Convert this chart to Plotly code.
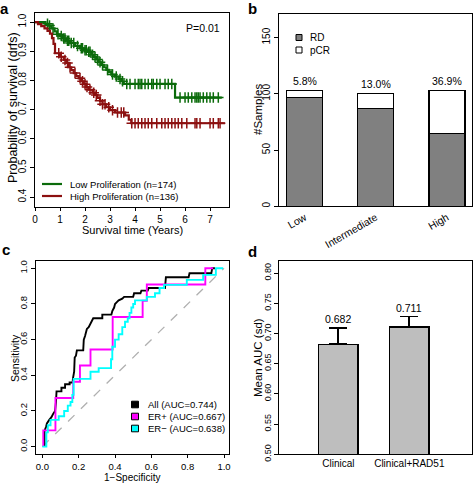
import plotly.graph_objects as go

W, H = 473, 483
FONT = "Liberation Sans, Arial, Helvetica, sans-serif"


def px(x):
    return x / W


def py(y):
    return 1 - y / H


# ---------------- Panel a: Kaplan-Meier (drfs) ----------------
low_t = [0.0, 0.42, 0.55, 0.65, 0.78, 0.88, 1.0, 1.12, 1.25, 1.4, 1.6, 1.8, 1.95, 2.1, 2.25,
         2.35, 2.45, 2.55, 2.65, 2.75, 2.85, 2.95, 3.05, 3.2, 3.35, 3.45, 3.55, 5.6]
low_s = [1.0, 0.994, 0.988, 0.978, 0.968, 0.958, 0.952, 0.944, 0.936, 0.928, 0.918, 0.91, 0.903, 0.898, 0.888,
         0.88, 0.872, 0.862, 0.853, 0.845, 0.836, 0.828, 0.82, 0.813, 0.805, 0.797, 0.788, 0.741]
low_end = 7.47
low_cens = [0.5, 0.58, 0.72, 0.92, 1.05, 1.15, 1.2, 1.3, 1.35, 1.45, 1.55, 1.7, 1.85, 1.9, 2.0, 2.05,
            2.15, 2.2, 2.3, 2.4, 2.5, 2.6, 2.7, 2.9, 3.1, 3.25, 3.4, 3.5, 3.67, 3.8, 4.0, 4.13, 4.2,
            4.27, 4.4, 4.53, 4.67, 4.73, 4.87, 5.0, 5.2, 5.33, 5.47, 5.8, 6.0, 6.13, 6.27, 6.4,
            6.47, 6.53, 6.6, 6.73, 6.87, 7.0, 7.13, 7.33]

high_t = [0.0, 0.12, 0.25, 0.38, 0.5, 0.6, 0.68, 0.74, 0.8, 1.0, 1.15, 1.25, 1.35, 1.45, 1.55, 1.65, 1.75,
          1.85, 1.95, 2.05, 2.15, 2.3, 2.4, 2.5, 2.6, 2.7, 2.85, 3.0, 3.2, 3.6, 3.75, 3.85]
high_s = [1.0, 0.993, 0.986, 0.978, 0.97, 0.96, 0.945, 0.925, 0.893, 0.881, 0.87, 0.86, 0.845, 0.835, 0.825,
          0.815, 0.807, 0.797, 0.787, 0.777, 0.768, 0.758, 0.75, 0.74, 0.73, 0.718, 0.708, 0.698, 0.69, 0.68,
          0.665, 0.653]
high_end = 7.6
high_cens = [0.95, 1.05, 1.2, 1.3, 1.4, 1.6, 1.8, 1.9, 2.0, 2.08, 2.2, 2.35, 2.45, 2.6, 2.7, 2.8, 2.95,
             3.1, 3.3, 3.45, 3.55, 3.87, 4.0, 4.13, 4.27, 4.4, 4.53, 4.67, 4.87, 5.07, 5.2, 5.33, 5.47,
             5.6, 5.73, 5.87, 6.07, 6.4, 6.47, 6.6, 7.0, 7.13, 7.33, 7.4]

km_names = ["Low Proliferation (n=174)", "High Proliferation (n=136)"]
km_colors = ["#0b6b0b", "#8c1010"]
p_value_text = "P=0.01"

# ---------------- Panel b: stacked bars ----------------
b_cats = ["Low", "Intermediate", "High"]
b_rd = [97, 87, 65]
b_pcr = [6, 13, 38]
b_pct = ["5.8%", "13.0%", "36.9%"]
b_names = ["RD", "pCR"]

# ---------------- Panel c: ROC curves ----------------
roc_all_x = [0.012, 0.012, 0.02, 0.025, 0.038, 0.05, 0.06, 0.07, 0.075, 0.078, 0.105, 0.105, 0.125, 0.125,
             0.15, 0.15, 0.167, 0.168, 0.175, 0.178, 0.185, 0.19, 0.225, 0.228, 0.235, 0.245, 0.255, 0.265,
             0.275, 0.28, 0.33, 0.33, 0.38, 0.385, 0.395, 0.4, 0.41, 0.42, 0.44, 0.45, 0.5, 0.505, 0.54,
             0.545, 0.58, 0.585, 0.675, 0.68, 0.805, 0.81, 0.93, 0.935, 0.95]
roc_all_y = [0.0, 0.09, 0.11, 0.13, 0.15, 0.165, 0.185, 0.2, 0.25, 0.31, 0.31, 0.33, 0.33, 0.35,
             0.35, 0.36, 0.36, 0.38, 0.42, 0.5, 0.51, 0.54, 0.54, 0.6, 0.62, 0.66, 0.67, 0.69,
             0.71, 0.72, 0.72, 0.74, 0.74, 0.76, 0.78, 0.8, 0.81, 0.82, 0.83, 0.84, 0.84, 0.86, 0.86,
             0.875, 0.875, 0.89, 0.89, 0.95, 0.95, 0.972, 0.972, 1.0, 1.0]
roc_erp_x = [0.005, 0.005, 0.072, 0.072, 0.17, 0.17, 0.207, 0.207, 0.265, 0.265, 0.387, 0.387,
             0.552, 0.552, 0.575, 0.575, 0.897, 0.897, 0.94]
roc_erp_y = [0.0, 0.091, 0.091, 0.273, 0.273, 0.364, 0.364, 0.455, 0.455, 0.545, 0.545, 0.727,
             0.727, 0.818, 0.818, 0.909, 0.909, 1.0, 1.0]
roc_ern_x = [0.0, 0.022, 0.022, 0.03, 0.03, 0.045, 0.045, 0.09, 0.09, 0.12, 0.12, 0.14, 0.14, 0.155,
             0.155, 0.165, 0.165, 0.172, 0.172, 0.265, 0.265, 0.31, 0.31, 0.378, 0.378, 0.385, 0.385,
             0.4, 0.4, 0.42, 0.42, 0.44, 0.44, 0.455, 0.455, 0.47, 0.47, 0.48, 0.48, 0.49, 0.49, 0.5,
             0.5, 0.51, 0.51, 0.575, 0.575, 0.62, 0.62, 0.645, 0.645, 0.67, 0.67, 0.795, 0.795, 0.885,
             0.885, 0.955, 0.955, 0.995]
roc_ern_y = [0.0, 0.0, 0.08, 0.08, 0.12, 0.12, 0.15, 0.15, 0.17, 0.17, 0.2, 0.2, 0.23, 0.23,
             0.25, 0.25, 0.29, 0.29, 0.38, 0.38, 0.42, 0.42, 0.44, 0.44, 0.49, 0.49, 0.56,
             0.56, 0.6, 0.6, 0.63, 0.63, 0.67, 0.67, 0.7, 0.7, 0.72, 0.72, 0.75, 0.75, 0.78, 0.78,
             0.8, 0.8, 0.82, 0.82, 0.84, 0.84, 0.86, 0.86, 0.89, 0.89, 0.907, 0.907, 0.935, 0.935,
             0.963, 0.963, 1.0, 1.0]
roc_names = ["All (AUC=0.744)", "ER+ (AUC=0.667)", "ER\u2212 (AUC=0.638)"]
roc_colors = ["#000000", "#ff00ff", "#00ffff"]
diag_x = [0, 1]
diag_y = [0, 1]

# ---------------- Panel d: mean AUC bars ----------------
d_cats = ["Clinical", "Clinical+RAD51"]
d_auc = [0.682, 0.711]
d_sd = [0.027, 0.017]
d_labels = ["0.682", "0.711"]

# ==================================================================
fig = go.Figure()


def surv_at(times, survs, t):
    s = survs[0]
    for ti, si in zip(times, survs):
        if ti <= t:
            s = si
    return s


for times, survs, end, cens, name, col in [
    (low_t, low_s, low_end, low_cens, km_names[0], km_colors[0]),
    (high_t, high_s, high_end, high_cens, km_names[1], km_colors[1]),
]:
    fig.add_trace(go.Scatter(x=times + [end], y=survs + [survs[-1]], mode="lines",
                             line=dict(color=col, width=2.2, shape="hv"),
                             xaxis="x", yaxis="y", showlegend=False, name=name))
    fig.add_trace(go.Scatter(x=cens, y=[surv_at(times, survs, c) for c in cens], mode="markers",
                             marker=dict(symbol="cross-thin", size=7.5, line=dict(color=col, width=1.5)),
                             xaxis="x", yaxis="y", showlegend=False, hoverinfo="skip"))

# Panel b
fig.add_trace(go.Bar(x=b_cats, y=b_rd, name=b_names[0], width=0.505,
                     marker=dict(color="#808080", line=dict(color="black", width=1.3)),
                     xaxis="x2", yaxis="y2", showlegend=False))
fig.add_trace(go.Bar(x=b_cats, y=b_pcr, name=b_names[1], width=0.505,
                     marker=dict(color="white", line=dict(color="black", width=1.3)),
                     xaxis="x2", yaxis="y2", showlegend=False))

# Panel c
fig.add_trace(go.Scatter(x=diag_x, y=diag_y, mode="lines",
                         line=dict(color="#b0b0b0", width=1.3, dash="dash"),
                         xaxis="x3", yaxis="y3", showlegend=False, hoverinfo="skip"))
for xs, ys, nm, col in [(roc_all_x, roc_all_y, roc_names[0], roc_colors[0]),
                        (roc_erp_x, roc_erp_y, roc_names[1], roc_colors[1]),
                        (roc_ern_x, roc_ern_y, roc_names[2], roc_colors[2])]:
    fig.add_trace(go.Scatter(x=xs, y=ys, mode="lines", line=dict(color=col, width=1.9),
                             name=nm, xaxis="x3", yaxis="y3", showlegend=False))

# Panel d
fig.add_trace(go.Bar(x=d_cats, y=d_auc, width=0.56,
                     marker=dict(color="#bebebe", line=dict(color="black", width=1.5)),
                     error_y=dict(type="data", array=d_sd, arrayminus=[0] * len(d_sd), symmetric=False,
                                  color="black", thickness=1.8, width=9),
                     xaxis="x4", yaxis="y4", showlegend=False))

axis_common = dict(showline=True, linecolor="black", linewidth=1.3, mirror=True, showgrid=False,
                   zeroline=False, ticks="outside", ticklen=4, tickwidth=1, tickcolor="black",
                   automargin=False,
                   tickfont=dict(family=FONT, size=10, color="black"))

layout = dict(
    template="none",
    width=W, height=H, margin=dict(l=0, r=0, t=0, b=0, pad=0, autoexpand=False),
    paper_bgcolor="white", plot_bgcolor="white", barmode="stack", showlegend=False,
    font=dict(family=FONT, color="black"),
    xaxis=dict(axis_common, domain=[px(35), px(229.3)], anchor="y", range=[0, 7.77],
               tickvals=list(range(8)), ticklen=3),
    yaxis=dict(axis_common, domain=[py(206.7), py(13.3)], anchor="x", range=[0.367, 1.03],
               tickvals=[0.4, 0.5, 0.6, 0.7, 0.8, 0.9, 1.0], tickformat=".1f", tickangle=-90),
    xaxis2=dict(axis_common, domain=[px(279.3), px(472.3)], anchor="y2", range=[-0.356, 2.356],
                ticks="", tickangle=-30, type="category", tickfont=dict(family=FONT, size=10.5, color="black")),
    yaxis2=dict(axis_common, domain=[py(206.3), py(14)], anchor="x2", range=[0, 171],
                tickvals=[0, 50, 100, 150], tickangle=-90),
    xaxis3=dict(axis_common, domain=[px(36), px(229.3)], anchor="y3", range=[-0.035, 1.029],
                tickvals=[0, 0.2, 0.4, 0.6, 0.8, 1.0], tickformat=".1f", ticklen=3,
                tickfont=dict(family=FONT, size=9.5, color="black")),
    yaxis3=dict(axis_common, domain=[py(454.3), py(261)], anchor="x3", range=[-0.043, 1.041],
                tickvals=[0, 0.2, 0.4, 0.6, 0.8, 1.0], tickformat=".1f", tickangle=-90,
                tickfont=dict(family=FONT, size=9.5, color="black")),
    xaxis4=dict(axis_common, domain=[px(279.3), px(472.3)], anchor="y4", range=[-0.833, 1.888],
                ticks="", type="category", tickfont=dict(family=FONT, size=10, color="black")),
    yaxis4=dict(axis_common, domain=[py(454.3), py(261)], anchor="x4", range=[0.5, 0.82],
                tickvals=[0.5, 0.55, 0.6, 0.65, 0.7, 0.75, 0.8], tickformat=".2f", tickangle=-90,
                tickfont=dict(family=FONT, size=9, color="black")),
)
fig.update_layout(**layout)

ann = []
shapes = []


def text(x, y, s, size=10.5, xanchor="center", yanchor="middle", angle=0, bold=False, **kw):
    a = dict(x=px(x), y=py(y), xref="paper", yref="paper", text=("<b>%s</b>" % s) if bold else s,
             showarrow=False, xanchor=xanchor, yanchor=yanchor, textangle=angle,
             font=dict(family=FONT, size=size, color="black"))
    a.update(kw)
    ann.append(a)


# panel letters
text(-1, 18, "a", size=15, xanchor="left", yanchor="bottom", bold=True, borderpad=0)
text(247, 18, "b", size=15, xanchor="left", yanchor="bottom", bold=True, borderpad=0)
text(1, 259, "c", size=15, xanchor="left", yanchor="bottom", bold=True, borderpad=0)
text(247, 261, "d", size=15, xanchor="left", yanchor="bottom", bold=True, borderpad=0)

# axis titles
text(13, 108, "Probability of survival (drfs)", size=12.5, angle=-90)
text(132, 230, "Survival time (Years)", size=11)
text(258, 110, "#Samples", size=11.5, angle=-90)
text(15, 358, "Sensitivity", size=10.5, angle=-90)
text(132, 477.5, "1\u2212Specificity", size=10)
text(258, 358, "Mean AUC (sd)", size=11.5, angle=-90)

# panel a annotations / legend
text(222, 28, p_value_text, size=10.5, xanchor="right")
for i, (nm, col) in enumerate(zip(km_names, km_colors)):
    yy = 184 + 12 * i
    shapes.append(dict(type="line", xref="paper", yref="paper", x0=px(42), x1=px(62), y0=py(yy), y1=py(yy),
                       line=dict(color=col, width=2.2)))
    text(68, yy, nm, size=9.5, xanchor="left")

# panel b labels
for cat, rd, pc, lab in zip(b_cats, b_rd, b_pcr, b_pct):
    ann.append(dict(x=cat, y=rd + pc + 8.5, xref="x2", yref="y2", text=lab, showarrow=False,
                    xanchor="center", yanchor="middle", font=dict(family=FONT, size=10.5, color="black")))
for i, (nm, col) in enumerate(zip(b_names, ["#808080", "white"])):
    yy = 37.5 + 12.5 * i
    shapes.append(dict(type="rect", xref="paper", yref="paper", x0=px(296), x1=px(302), y0=py(yy - 3),
                       y1=py(yy + 3), fillcolor=col, line=dict(color="black", width=1)))
    text(307.5, yy, nm, size=10, xanchor="left")

# panel c legend
for i, (nm, col) in enumerate(zip(roc_names, roc_colors)):
    yy = 404.5 + 12 * i
    shapes.append(dict(type="rect", xref="paper", yref="paper", x0=px(131.5), x1=px(138.5), y0=py(yy - 3.3),
                       y1=py(yy + 3.3), fillcolor=col, line=dict(color="black", width=1)))
    text(146, yy, nm, size=9.5, xanchor="left")

# panel d labels
for cat, v, s, lab in zip(d_cats, d_auc, d_sd, d_labels):
    ann.append(dict(x=cat, y=v + s + 0.0145, xref="x4", yref="y4", text=lab, showarrow=False,
                    xanchor="center", yanchor="middle", font=dict(family=FONT, size=10.5, color="black")))

fig.update_layout(annotations=ann, shapes=shapes)
fig.write_html("out.html", config={"displayModeBar": False},
               post_script="document.body.style.margin='0';document.body.style.overflow='hidden';")
